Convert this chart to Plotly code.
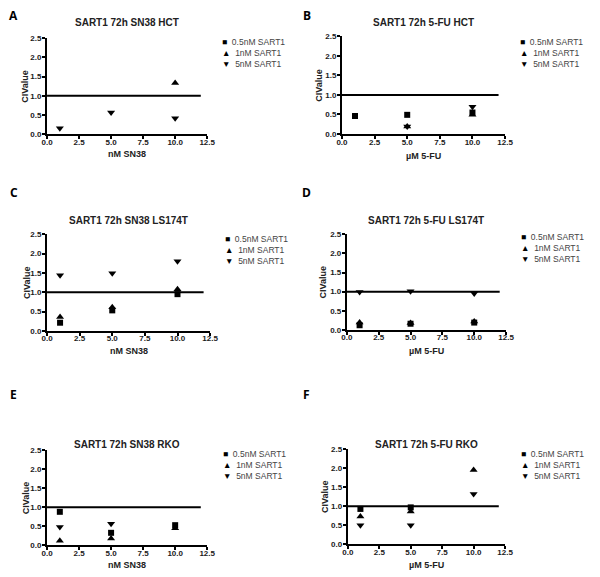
import plotly.graph_objects as go

conc = [1, 5, 10]
series_names = ["0.5nM SART1", "1nM SART1", "5nM SART1"]
symbols = ["square", "triangle-up", "triangle-down"]
legend_glyphs = ["■", "▲", "▼"]

titles = ["SART1 72h SN38 HCT", "SART1 72h 5-FU HCT",
          "SART1 72h SN38 LS174T", "SART1 72h 5-FU LS174T",
          "SART1 72h SN38 RKO", "SART1 72h 5-FU RKO"]
letters = ["A", "B", "C", "D", "E", "F"]
xlabels = ["nM SN38", "µM 5-FU", "nM SN38", "µM 5-FU", "nM SN38", "µM 5-FU"]
ylabel = "CIValue"

# CI values per panel: [0.5nM, 1nM, 5nM], each at conc 1, 5, 10
A_05 = [None, None, None]
A_1 = [None, None, 1.33]
A_5 = [0.16, 0.57, 0.42]

B_05 = [0.46, 0.49, 0.55]
B_1 = [None, 0.19, 0.49]
B_5 = [None, 0.19, 0.70]

C_05 = [0.21, 0.53, 0.95]
C_1 = [0.36, 0.61, 1.08]
C_5 = [1.44, 1.49, 1.80]

D_05 = [0.12, 0.16, 0.19]
D_1 = [0.19, 0.18, 0.22]
D_5 = [0.99, 1.01, 0.95]

E_05 = [0.88, 0.33, 0.53]
E_1 = [0.12, 0.18, 0.45]
E_5 = [0.48, 0.57, None]

F_05 = [0.93, 0.97, None]
F_1 = [0.73, 0.86, 1.95]
F_5 = [0.50, 0.50, 1.32]

panels = [[A_05, A_1, A_5], [B_05, B_1, B_5], [C_05, C_1, C_5],
          [D_05, D_1, D_5], [E_05, E_1, E_5], [F_05, F_1, F_5]]

ref_x = [0, 12]
ref_y = [1, 1]
xticks = [0, 2.5, 5, 7.5, 10, 12.5]
yticks = [0, 0.5, 1.0, 1.5, 2.0, 2.5]

W, H = 600, 577
# plot-area pixel boxes: (x_left, x_right, y_bottom, y_top)
boxes = [(42, 206, 132.5, 34.5), (344, 511, 132, 33),
         (42, 209, 332, 234), (349, 512, 331, 234),
         (42, 206, 550, 453), (350, 511, 549, 452)]
title_y = [19, 19, 220, 220, 447, 447]
xtitle_y = [152, 154, 352, 352, 570, 570]
ytitle_x = [20, 321, 21, 325, 20, 326]
letter_pos = [(8, 12), (308, 12), (8, 191), (308, 191), (8, 397), (308, 397)]
legend_pos = [(219, 50), (524, 50), (222, 250), (525, 248), (220, 468), (525, 468)]

fig = go.Figure()
annotations = []
FONT = "Liberation Sans, Arial, sans-serif"
LBL = dict(family=FONT, size=9, color="#222")

for i, (vals, box) in enumerate(zip(panels, boxes)):
    n = "" if i == 0 else str(i + 1)
    xa, ya = "x" + n, "y" + n
    for name, sym, v in zip(series_names, symbols, vals):
        fig.add_trace(go.Scatter(
            x=conc, y=v, mode="markers", name=name, showlegend=False,
            xaxis=xa, yaxis=ya, cliponaxis=False,
            marker=dict(symbol=sym, size=6 if sym == "square" else 7, color="black")))
    fig.add_trace(go.Scatter(
        x=ref_x, y=ref_y, mode="lines", showlegend=False, xaxis=xa, yaxis=ya,
        line=dict(color="black", width=2), hoverinfo="skip"))

    xl, xr, yb, yt = box
    xdom = [xl / W, xr / W]
    ydom = [1 - yb / H, 1 - yt / H]
    axis_common = dict(showline=True, linecolor="black", linewidth=2,
                       ticks="outside", ticklen=3, tickwidth=1.5, tickcolor="black",
                       showgrid=False, zeroline=False, tickformat=".1f",
                       tickfont=dict(family=FONT, size=8, color="#1a1a1a", weight="bold"))
    fig.update_layout(**{
        "xaxis" + n: dict(domain=xdom, range=[0, 12.5], tickvals=xticks,
                          anchor=ya, ticklabelstandoff=-4, **axis_common),
        "yaxis" + n: dict(domain=ydom, range=[0, 2.5], tickvals=yticks,
                          anchor=xa, ticklabelstandoff=-1, **axis_common),
    })
    cx = (xl + xr) / 2
    annotations.append(dict(text="<b>" + titles[i] + "</b>", x=cx / W,
                            y=1 - title_y[i] / H, xref="paper", yref="paper",
                            showarrow=False, xanchor="center", yanchor="middle",
                            font=dict(family=FONT, size=10, color="#222")))
    annotations.append(dict(text="<b>" + xlabels[i] + "</b>", x=cx / W,
                            y=1 - xtitle_y[i] / H, xref="paper", yref="paper",
                            showarrow=False, xanchor="center", yanchor="middle",
                            font=LBL))
    annotations.append(dict(text="<b>" + ylabel + "</b>", x=ytitle_x[i] / W,
                            y=1 - (yb + yt) / 2 / H, xref="paper", yref="paper",
                            showarrow=False, xanchor="center", yanchor="middle",
                            textangle=-90, font=LBL))
    lx, ly = letter_pos[i]
    annotations.append(dict(text="<b>" + letters[i] + "</b>", x=lx / W, y=1 - ly / H,
                            xref="paper", yref="paper", showarrow=False,
                            xanchor="center", yanchor="middle",
                            font=dict(family="Open Sans, sans-serif", size=12, color="black")))
    gx, gy = legend_pos[i]
    leg_text = "<br>".join(
        '<span style="color:black">' + g + "</span>  " + s
        for g, s in zip(legend_glyphs, series_names))
    annotations.append(dict(text=leg_text, x=gx / W, y=1 - gy / H, xref="paper",
                            yref="paper", showarrow=False, xanchor="left",
                            yanchor="middle", align="left",
                            font=dict(family=FONT, size=8.5, color="#444")))

fig.update_layout(width=W, height=H, margin=dict(l=0, r=0, t=0, b=0),
                  paper_bgcolor="white", plot_bgcolor="white",
                  annotations=annotations, showlegend=False)

fig.write_html("out.html", config={"displayModeBar": False},
               post_script="document.body.style.margin='0';")
